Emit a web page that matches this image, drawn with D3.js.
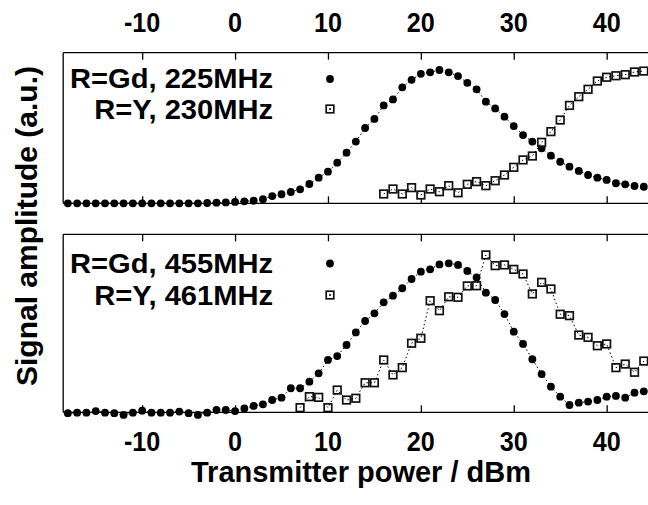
<!DOCTYPE html>
<html><head><meta charset="utf-8">
<script src="https://cdn.jsdelivr.net/npm/d3@7"></script>
<style>body{margin:0;background:#fff}svg{display:block}text{font-family:"Liberation Sans",Arial,sans-serif;font-weight:bold;fill:#000}</style>
</head><body>
<svg id="c" width="648" height="505"></svg>
<script>
// ---- data ----
const xTicks = [-10, 0, 10, 20, 30, 40];
const gdX = d3.range(-18, 45); // -18..44 dBm
const gd225 = [0,0,0,0,0,0,0,0,0,0,0,0,0,0,0,0.002,0.004,0.006,
  0.009,0.013,0.017,0.027,0.048,0.06,0.075,0.093,0.128,0.17,0.21,0.27,0.336,0.41,
  0.50,0.56,0.65,0.69,0.77,0.82,0.86,0.87,0.885,0.87,0.845,0.80,0.757,0.675,0.63,
  0.575,0.513,0.453,0.41,0.365,0.316,0.276,0.243,0.215,0.188,0.17,0.155,0.133,0.126,0.115,0.11];
const yX1 = d3.range(16, 45);
const y230 = [0.062,0.095,0.062,0.104,0.055,0.095,0.077,0.117,0.07,0.126,0.144,0.117,0.15,
  0.188,0.239,0.288,0.314,0.405,0.476,0.553,0.65,0.708,0.757,0.812,0.837,0.847,0.854,0.872,0.878];
const gd455 = [-0.005,-0.002,-0.002,0.007,-0.002,-0.005,-0.015,-0.002,0.009,-0.002,-0.002,-0.002,0.004,-0.005,-0.015,-0.002,0.013,0.013,
  0.007,0.022,0.036,0.045,0.069,0.082,0.135,0.135,0.172,0.219,0.294,0.316,0.378,0.449,
  0.513,0.556,0.618,0.655,0.697,0.749,0.79,0.803,0.831,0.837,0.828,0.794,0.758,0.672,0.631,
  0.552,0.453,0.384,0.298,0.215,0.144,0.088,0.041,0.054,0.06,0.069,0.088,0.092,0.082,0.11,0.118];
const yX2 = d3.range(7, 45);
const y461 = [0.026,0.088,0.084,0.026,0.125,0.069,0.079,0.166,0.166,0.294,0.21,0.251,0.388,0.416,
  0.627,0.571,0.649,0.646,0.71,0.711,0.884,0.824,0.828,0.803,0.777,0.665,0.73,0.693,
  0.551,0.543,0.434,0.421,0.374,0.384,0.251,0.271,0.225,0.288];
const panels = [
  {labels:["R=Gd, 225MHz","R=Y, 230MHz"], circ:gd225, sqX:yX1, sq:y230},
  {labels:["R=Gd, 455MHz","R=Y, 461MHz"], circ:gd455, sqX:yX2, sq:y461}
];
const xTitle = "Transmitter power / dBm";
const yTitle = "Signal amplitude (a.u.)";

// ---- layout ----
const svg = d3.select("#c");
const x = d3.scaleLinear().domain([-18.5, 45]).range([63.2, 653.1]);
const boxes = [{top:52.7, bottom:203.3, leg:[88,119]}, {top:234.3, bottom:412.3, leg:[272.5,305]}];

function stretchedText(g, str, xx, yy, anchor, fs, sx, rot){
  const t = g.append("text").attr("font-size", fs).attr("text-anchor", anchor).text(str);
  t.attr("transform", `translate(${xx},${yy})` + (rot ? ` rotate(${rot})` : "") + ` scale(${sx},1)`);
  return t;
}

panels.forEach((p, i) => {
  const b = boxes[i];
  const y = d3.scaleLinear().domain([0, 1]).range([b.bottom, b.top]);
  const g = svg.append("g");
  // frame
  g.append("line").attr("x1", x.range()[0]).attr("x2", 648).attr("y1", b.top).attr("y2", b.top).attr("stroke","#000").attr("stroke-width",1.3);
  g.append("line").attr("x1", x.range()[0]).attr("x2", 648).attr("y1", b.bottom).attr("y2", b.bottom).attr("stroke","#000").attr("stroke-width",1.3);
  g.append("line").attr("x1", x.range()[0]).attr("x2", x.range()[0]).attr("y1", b.top).attr("y2", b.bottom).attr("stroke","#000").attr("stroke-width",1.3);
  // ticks (inward, top & bottom)
  const axT = d3.axisTop(x).tickValues(xTicks).tickSize(-7).tickFormat("");
  const axB = d3.axisBottom(x).tickValues(xTicks).tickSize(-7).tickFormat("");
  g.append("g").attr("transform",`translate(0,${b.top})`).call(axT).call(a=>{a.select(".domain").remove();a.selectAll("line").attr("stroke-width",1.3);});
  g.append("g").attr("transform",`translate(0,${b.bottom})`).call(axB).call(a=>{a.select(".domain").remove();a.selectAll("line").attr("stroke-width",1.3);});

  // circles series
  const cdat = gdX.map((v,k)=>[v,p.circ[k]]);
  const line = d3.line().x(d=>x(d[0])).y(d=>y(d[1]));
  g.append("path").attr("d", line(cdat)).attr("fill","none").attr("stroke","#000").attr("stroke-width",1).attr("stroke-dasharray","1.5,2.5");
  g.selectAll("circle.gd").data(cdat).join("circle").attr("class","gd")
    .attr("cx",d=>x(d[0])).attr("cy",d=>y(d[1])).attr("r",3.9).attr("fill","#000");
  // square series
  const sdat = p.sqX.map((v,k)=>[v,p.sq[k]]);
  g.selectAll("rect.yy").data(sdat).join("rect").attr("class","yy")
    .attr("x",d=>x(d[0])-3.8).attr("y",d=>y(d[1])-3.8).attr("width",7.6).attr("height",7.6)
    .attr("fill","#fff").attr("stroke","#111").attr("stroke-width",1.7);
  g.append("path").attr("d", line(sdat)).attr("fill","none").attr("stroke","#000").attr("stroke-width",1).attr("stroke-dasharray","1.5,2.5");

  // legend
  stretchedText(g, p.labels[0], 273, b.leg[0], "end", 28, 1.04);
  stretchedText(g, p.labels[1], 273, b.leg[1], "end", 28, 1.04);
  g.append("circle").attr("cx",330).attr("cy",b.leg[0]-9).attr("r",3.9).attr("fill","#000");
  g.append("rect").attr("x",330-3.8).attr("y",b.leg[1]-10-3.8).attr("width",7.6).attr("height",7.6).attr("fill","#fff").attr("stroke","#111").attr("stroke-width",1.7);
  g.append("circle").attr("cx",330).attr("cy",b.leg[1]-10).attr("r",1).attr("fill","#000");
});

// tick labels
const tl = svg.append("g");
xTicks.forEach(v=>{
  stretchedText(tl, String(v), x(v), 32, "middle", 28, 0.9);
  stretchedText(tl, String(v), x(v), 451, "middle", 28, 0.9);
});
// titles
stretchedText(svg, xTitle, 361, 482, "middle", 29, 1.0);
stretchedText(svg, yTitle, 37, 226, "middle", 30, 1.0, -90);
</script>
</body></html>
